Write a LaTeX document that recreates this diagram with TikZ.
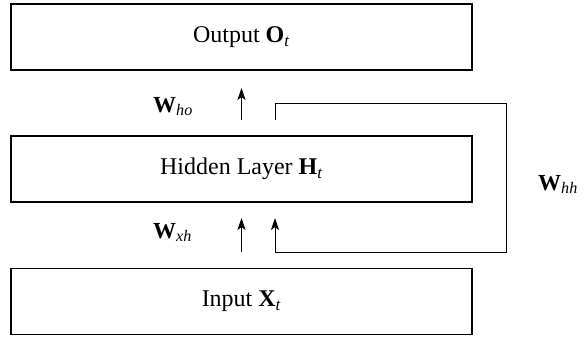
\documentclass[tikz,border=0pt]{standalone}
\usepackage{fontspec}
\setmainfont{Liberation Serif}
\usetikzlibrary{arrows.meta}
\tikzset{
  layerbox/.style={draw=black, line width=1.4pt, minimum width=461pt, minimum height=66pt, inner sep=0pt, font=\fontsize{24}{28}\selectfont},
  wlabel/.style={inner sep=0pt, anchor=base west, font=\fontsize{23}{27}\selectfont},
  conn/.style={draw=black, line width=0.9pt, -{Stealth[length=12pt,width=8pt,inset=3pt]}},
}
\begin{document}
\begin{tikzpicture}[x=1pt,y=-1pt]
\useasboundingbox (0,0) rectangle (584,338);
\node[layerbox] (out) at (241.5,37) {Output \textbf{O}\textsubscript{\textit{t}}};
\node[layerbox] (hid) at (241.5,169) {Hidden Layer \textbf{H}\textsubscript{\textit{t}}};
\node[layerbox] (inp) at (241.5,301.5) {Input \textbf{X}\textsubscript{\textit{t}}};
\coordinate (hoS) at (241.5,120);
\coordinate (hoE) at (241.5,88);
\coordinate (xhS) at (241.5,252);
\coordinate (xhE) at (241.5,218);
\coordinate (fbS) at (275,120);
\coordinate (fbA) at (506,103);
\coordinate (fbB) at (506,252);
\coordinate (fbE) at (275,218);
\draw[conn] (hoS) -- (hoE);
\draw[conn] (xhS) -- (xhE);
\draw[conn] (fbS) |- (fbA) -- (fbB) -| (fbE);
\node[wlabel] (who) at (153,112) {\textbf{W}\textsubscript{\textit{ho}}};
\node[wlabel] (wxh) at (153,238) {\textbf{W}\textsubscript{\textit{xh}}};
\node[wlabel] (whh) at (538,190) {\textbf{W}\textsubscript{\textit{hh}}};
\end{tikzpicture}
\end{document}
